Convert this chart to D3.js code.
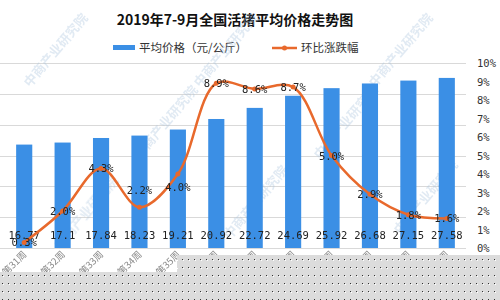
<!DOCTYPE html>
<html>
<head>
<meta charset="utf-8">
<script src="https://cdn.jsdelivr.net/npm/d3@7/dist/d3.min.js"></script>
<style>
  html, body { margin: 0; padding: 0; background: #fff; }
  svg { display: block; }
  .mono { font-family: "DejaVu Sans Mono", "Liberation Mono", monospace; }
  .cjk { font-family: "Noto Sans CJK SC", sans-serif; }
</style>
</head>
<body>
<svg id="chart" width="500" height="300"></svg>
<script>
/* global d3 */

const TITLE = "2019年7-9月全国活猪平均价格走势图";
const weeks = ["第31周", "第32周", "第33周", "第34周", "第35周", "第36周",
               "第37周", "第38周", "第39周", "第40周", "第41周", "第42周"];
const prices = [16.77, 17.1, 17.84, 18.23, 19.21, 20.92, 22.72, 24.69, 25.92, 26.68, 27.15, 27.58];
const changes = [0.3, 2.0, 4.3, 2.2, 4.0, 8.9, 8.6, 8.7, 5.0, 2.9, 1.8, 1.6];
const leftTicks = [0, 5, 10, 15, 20, 25, 30];
const rightTicks = [0, 1, 2, 3, 4, 5, 6, 7, 8, 9, 10];

(function() {
  const BLUE = "#3b8fe5";
  const ORANGE = "#e8692c";
  const svg = d3.select("#chart");

  const x = d3.scaleBand()
    .domain(weeks)
    .range([5, 466])
    .paddingInner(0.58)
    .paddingOuter(0.29);
  const yL = d3.scaleLinear().domain([0, 30]).range([248, 63]);
  const yR = d3.scaleLinear().domain([0, 10]).range([248, 63]);
  const cx = d => x(d) + x.bandwidth() / 2;

  // title
  svg.append("text")
    .attr("class", "cjk")
    .attr("x", 235)
    .attr("y", 25)
    .attr("text-anchor", "middle")
    .attr("font-size", 14)
    .attr("font-weight", "bold")
    .attr("fill", "#111")
    .text(TITLE);

  // legend
  const legend = svg.append("g").attr("class", "cjk").attr("font-size", 11.5).attr("fill", "#333");
  legend.append("rect").attr("x", 113).attr("y", 45).attr("width", 22).attr("height", 5).attr("fill", BLUE);
  legend.append("text").attr("x", 139).attr("y", 52).text("平均价格（元/公斤）");
  legend.append("line").attr("x1", 272).attr("x2", 297).attr("y1", 48).attr("y2", 48)
    .attr("stroke", ORANGE).attr("stroke-width", 2.5);
  legend.append("circle").attr("cx", 284.5).attr("cy", 48).attr("r", 2.5).attr("fill", ORANGE);
  legend.append("text").attr("x", 301).attr("y", 52).text("环比涨跌幅");

  // gridlines from the (hidden) left axis
  svg.append("g")
    .selectAll("line")
    .data(leftTicks)
    .enter()
    .append("line")
    .attr("x1", 0)
    .attr("x2", 466)
    .attr("y1", d => Math.round(yL(d)) + 0.5)
    .attr("y2", d => Math.round(yL(d)) + 0.5)
    .attr("stroke", "#d9d9d9");

  // right axis labels
  svg.append("g")
    .attr("class", "mono")
    .attr("font-size", 10.5)
    .attr("fill", "#333")
    .selectAll("text")
    .data(rightTicks)
    .enter()
    .append("text")
    .attr("x", 477)
    .attr("y", d => yR(d) + 4)
    .text(d => d + "%");

  // faint watermark
  const wm = svg.append("g")
    .attr("class", "cjk")
    .attr("font-size", 13)
    .attr("font-weight", "bold")
    .attr("fill", "#a9c3dd")
    .attr("opacity", 0.35);
  [[30, 88], [200, 88], [375, 88], [60, 250], [230, 240], [400, 235], [140, 160], [320, 160]].forEach(p => {
    wm.append("text")
      .attr("transform", `translate(${p[0]},${p[1]}) rotate(-50)`)
      .text("中商产业研究院");
  });

  // bars
  svg.append("g")
    .selectAll("rect")
    .data(prices)
    .enter()
    .append("rect")
    .attr("x", (d, i) => x(weeks[i]))
    .attr("y", d => yL(d))
    .attr("width", x.bandwidth())
    .attr("height", d => yL(0) - yL(d))
    .attr("fill", BLUE);

  // bar value labels
  svg.append("g")
    .attr("class", "mono")
    .attr("font-size", 10.5)
    .attr("fill", "#222")
    .selectAll("text")
    .data(prices)
    .enter()
    .append("text")
    .attr("x", (d, i) => cx(weeks[i]))
    .attr("y", yL(0) - 9)
    .attr("text-anchor", "middle")
    .text(d => d);

  // x labels, rotated
  svg.append("g")
    .attr("class", "cjk")
    .attr("font-size", 9.5)
    .attr("fill", "#888")
    .selectAll("text")
    .data(weeks)
    .enter()
    .append("text")
    .attr("transform", d => `translate(${cx(d) + 3},${yL(0) + 7}) rotate(-45)`)
    .attr("text-anchor", "end")
    .text(d => d);

  // line
  const line = d3.line()
    .x((d, i) => cx(weeks[i]))
    .y(d => yR(d))
    .curve(d3.curveCatmullRom.alpha(0.5));
  svg.append("path")
    .datum(changes)
    .attr("d", line)
    .attr("fill", "none")
    .attr("stroke", ORANGE)
    .attr("stroke-width", 2.5);
  svg.append("g")
    .selectAll("circle")
    .data(changes)
    .enter()
    .append("circle")
    .attr("cx", (d, i) => cx(weeks[i]))
    .attr("cy", d => yR(d))
    .attr("r", 2.5)
    .attr("fill", ORANGE);

  // line value labels (most sit on the point; two were nudged)
  const nudge = { 3: -17, 4: 13 };
  svg.append("g")
    .attr("class", "mono")
    .attr("font-size", 10.5)
    .attr("fill", "#222")
    .selectAll("text")
    .data(changes)
    .enter()
    .append("text")
    .attr("x", (d, i) => cx(weeks[i]))
    .attr("y", (d, i) => yR(d) + 4 + (nudge[i] || 0))
    .attr("text-anchor", "middle")
    .text(d => d.toFixed(1) + "%");

  // dotted grey block covering the bottom of the picture
  const defs = svg.append("defs");
  const pat = defs.append("pattern")
    .attr("id", "dots")
    .attr("width", 6)
    .attr("height", 8)
    .attr("patternUnits", "userSpaceOnUse");
  pat.append("rect").attr("width", 6).attr("height", 8).attr("fill", "#dcdcdc");
  pat.append("rect").attr("x", 2).attr("y", 3).attr("width", 1).attr("height", 1).attr("fill", "#333");
  pat.append("rect").attr("x", 3).attr("y", 4).attr("width", 1).attr("height", 1).attr("fill", "#fff");
  svg.append("path")
    .attr("d", "M0,272H177V255H500V300H0Z")
    .attr("fill", "url(#dots)");
})();
</script>
</body>
</html>
